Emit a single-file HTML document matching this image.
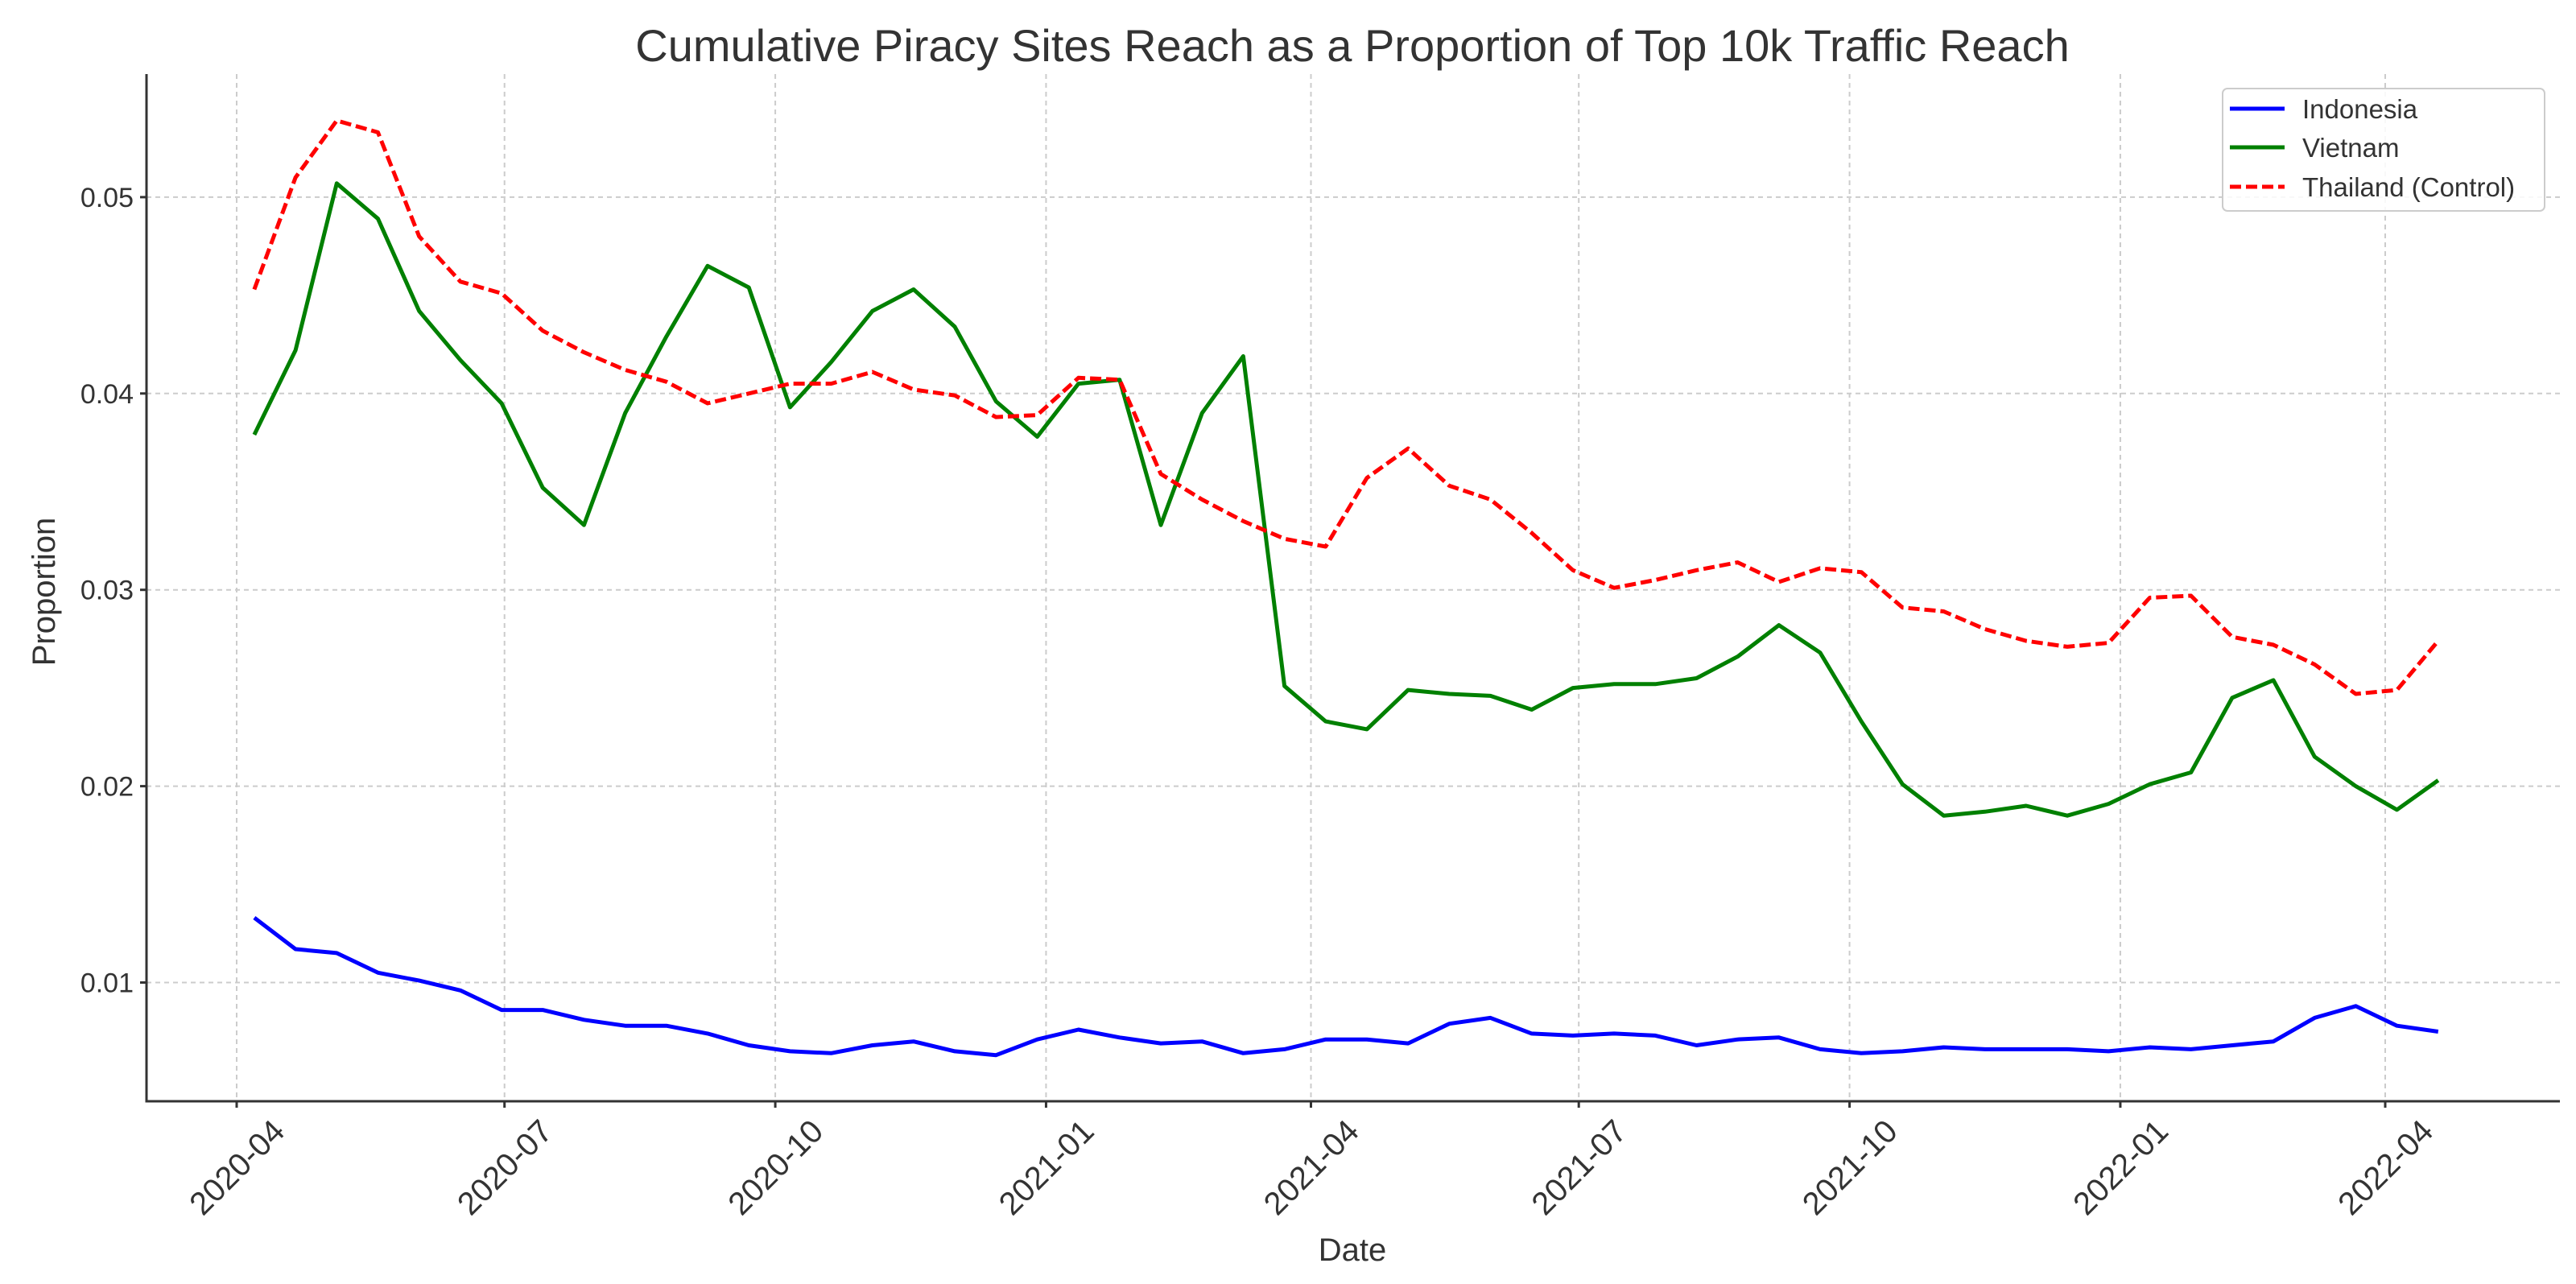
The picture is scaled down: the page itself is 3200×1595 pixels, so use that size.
<!DOCTYPE html>
<html><head><meta charset="utf-8"><style>
html,body{margin:0;padding:0;background:#fff}
svg{display:block;font-family:"Liberation Sans","DejaVu Sans",sans-serif}
</style></head><body>
<svg id="chart" width="3200" height="1595" viewBox="0 0 3200 1595" xmlns="http://www.w3.org/2000/svg">
<rect width="3200" height="1595" fill="#fff"/>
<text x="1680" y="76" text-anchor="middle" font-size="56" fill="#333">Cumulative Piracy Sites Reach as a Proportion of Top 10k Traffic Reach</text>
<g id="grid"></g>
<g id="series"></g>
<g id="axes"></g>
<text transform="translate(68,735) rotate(-90)" text-anchor="middle" font-size="40" fill="#333">Proportion</text>
<text x="1680" y="1566" text-anchor="middle" font-size="40" fill="#333">Date</text>
<g>
<rect x="2761" y="110" width="400" height="152" rx="6" fill="#fff" fill-opacity="0.85" stroke="#ccc" stroke-width="2"/>
<line x1="2770" y1="135" x2="2838" y2="135" stroke="#0000ff" stroke-width="5"/>
<text x="2860" y="147" font-size="33" fill="#333">Indonesia</text>
<line x1="2770" y1="183" x2="2838" y2="183" stroke="#008000" stroke-width="5"/>
<text x="2860" y="195" font-size="33" fill="#333">Vietnam</text>
<line x1="2770" y1="232" x2="2838" y2="232" stroke="#ff0000" stroke-width="5" stroke-dasharray="14,6"/>
<text x="2860" y="244" font-size="33" fill="#333">Thailand (Control)</text>
</g>
</svg>
<script>
const startDate = "2020-04-07";
const stepDays = 14;
const indonesia = [.0133,.0117,.0115,.0105,.0101,.0096,.0086,.0086,.0081,.0078,.0078,.0074,.0068,.0065,.0064,.0068,.0070,.0065,.0063,.0071,.0076,.0072,.0069,.0070,.0064,.0066,.0071,.0071,.0069,.0079,.0082,.0074,.0073,.0074,.0073,.0068,.0071,.0072,.0066,.0064,.0065,.0067,.0066,.0066,.0066,.0065,.0067,.0066,.0068,.0070,.0082,.0088,.0078,.0075];
const vietnam = [.0379,.0422,.0507,.0489,.0442,.0417,.0395,.0352,.0333,.0390,.0429,.0465,.0454,.0393,.0416,.0442,.0453,.0434,.0396,.0378,.0405,.0407,.0333,.0390,.0419,.0251,.0233,.0229,.0249,.0247,.0246,.0239,.0250,.0252,.0252,.0255,.0266,.0282,.0268,.0233,.0201,.0185,.0187,.0190,.0185,.0191,.0201,.0207,.0245,.0254,.0215,.0200,.0188,.0203];
const thailand = [.0453,.0510,.0539,.0533,.0480,.0457,.0451,.0432,.0421,.0412,.0406,.0395,.0400,.0405,.0405,.0411,.0402,.0399,.0388,.0389,.0408,.0407,.0359,.0346,.0335,.0326,.0322,.0357,.0372,.0353,.0346,.0329,.0310,.0301,.0305,.0310,.0314,.0304,.0311,.0309,.0291,.0289,.0280,.0274,.0271,.0273,.0296,.0297,.0276,.0272,.0262,.0247,.0249,.0274];
const yTicks = [0.01,0.02,0.03,0.04,0.05];
const yTickLabels = ["0.01","0.02","0.03","0.04","0.05"];
const xTicks = ["2020-04-01","2020-07-01","2020-10-01","2021-01-01","2021-04-01","2021-07-01","2021-10-01","2022-01-01","2022-04-01"];
const xTickLabels = ["2020-04","2020-07","2020-10","2021-01","2021-04","2021-07","2021-10","2022-01","2022-04"];

const NS="http://www.w3.org/2000/svg";
const L=182,R=3180,T=92,B=1368;
const DAY=86400000;
const x0=Date.parse("2020-04-01"), x1=Date.parse("2022-04-01");
function xs(ms){return 294+(ms-x0)/(x1-x0)*(2963-294);}
function ys(v){return 1220.5-(v-0.01)*24390;}
function el(t,a,p){const e=document.createElementNS(NS,t);for(const k in a)e.setAttribute(k,a[k]);p.appendChild(e);return e;}
const grid=document.getElementById('grid'),axes=document.getElementById('axes'),ser=document.getElementById('series');
yTicks.forEach((v,i)=>{
  const y=ys(v);
  const g=el('line',{x1:L,x2:R,y1:y,y2:y,stroke:'#ccc','stroke-width':2,'stroke-dasharray':'6,5'},grid);
  
  
  el('line',{x1:L-8,x2:L,y1:y,y2:y,stroke:'#333','stroke-width':3},axes);
  const t=el('text',{x:L-16,y:y+12,'text-anchor':'end','font-size':34,fill:'#333'},axes);
  t.textContent=yTickLabels[i];
  
  
});
xTicks.forEach((d,i)=>{
  const x=xs(Date.parse(d));
  const g=el('line',{x1:x,x2:x,y1:T,y2:B,stroke:'#ccc','stroke-width':2,'stroke-dasharray':'6,5'},grid);
  
  
  el('line',{x1:x,x2:x,y1:B,y2:B+8,stroke:'#333','stroke-width':3},axes);
  const t=el('text',{transform:`translate(${x+42},${B+20}) rotate(-45)`,'text-anchor':'end','font-size':40,fill:'#333','dominant-baseline':'hanging'},axes);
  t.textContent=xTickLabels[i];
  
  
});
el('line',{x1:L,x2:L,y1:T,y2:B+1.5,stroke:'#333','stroke-width':3},axes);
el('line',{x1:L-1.5,x2:R,y1:B,y2:B,stroke:'#333','stroke-width':3},axes);
const s0=Date.parse(startDate);
function draw(arr,color,dash,name){
  const pts=arr.map((v,i)=>xs(s0+i*stepDays*DAY).toFixed(1)+','+ys(v).toFixed(1)).join(' ');
  const p=el('polyline',{points:pts,fill:'none',stroke:color,'stroke-width':5,'stroke-linejoin':'round'},ser);
  if(dash)p.setAttribute('stroke-dasharray',dash);
  
  
}
draw(indonesia,'#0000ff',null,'indonesia-line');
draw(vietnam,'#008000',null,'vietnam-line');
draw(thailand,'#ff0000','14,6','thailand-line');
</script>
</body></html>
